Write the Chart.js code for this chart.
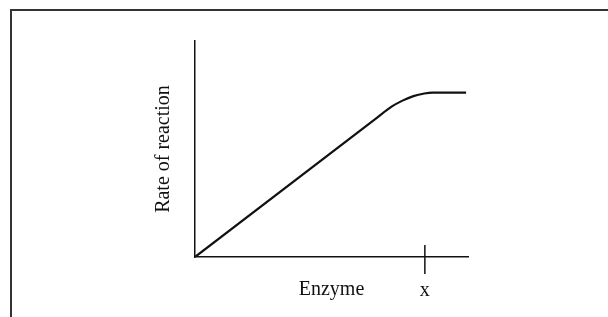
<!DOCTYPE html>
<html>
<head>
<meta charset="utf-8">
<script src="https://cdn.jsdelivr.net/npm/chart.js@4/dist/chart.umd.min.js"></script>
<style>
  html, body { margin: 0; padding: 0; background: #fff; overflow: hidden; }
  #frame {
    position: absolute; left: 10px; top: 9px; width: 700px; height: 400px;
    border-top: 2px solid #333; border-left: 2px solid #333;
  }
  #wrap { position: absolute; left: 0; top: 0; width: 608px; height: 317px; }
</style>
</head>
<body>
<div id="frame"></div>
<div id="wrap"><canvas id="chart"></canvas></div>
<script>
// Données (unités arbitraires)
const enzymeLevels = [0, 6.6, 7.2, 7.6, 8.0, 8.4, 8.7, 9.93];
const reactionRates = [0, 6.38, 6.96, 7.24, 7.45, 7.57, 7.61, 7.61];
const markerValue = 8.42;
const markerLabel = "x";
const xTitle = "Enzyme";
const yTitle = "Rate of reaction";

const serif = "'Liberation Serif', 'Times New Roman', serif";
const ink = "#111";

// Petit trait vertical qui coupe l'axe x au point "x"
const markerTick = {
  id: "markerTick",
  afterDraw(chart) {
    const { ctx, scales } = chart;
    const px = scales.x.getPixelForValue(markerValue);
    const py = scales.y.getPixelForValue(0);
    ctx.save();
    ctx.strokeStyle = ink;
    ctx.lineWidth = 1.5;
    ctx.beginPath();
    ctx.moveTo(px, py - 12);
    ctx.lineTo(px, py + 17);
    ctx.stroke();
    ctx.restore();
  },
};

const ctx = document.getElementById("chart").getContext("2d");
new Chart(ctx, {
  type: "line",
  data: {
    labels: enzymeLevels,
    datasets: [
      {
        data: enzymeLevels.map((x, i) => ({ x: x, y: reactionRates[i] })),
        borderColor: ink,
        borderWidth: 2.2,
        pointRadius: 0,
        cubicInterpolationMode: "monotone",
        fill: false,
      },
    ],
  },
  options: {
    responsive: true,
    maintainAspectRatio: false,
    animation: false,
    layout: { padding: { left: 147, top: 41, right: 140, bottom: 0 } },
    plugins: {
      legend: { display: false },
      tooltip: { enabled: false },
    },
    scales: {
      x: {
        type: "linear",
        min: 0,
        max: 10,
        grid: { display: false },
        border: { display: true, color: ink, width: 1.5 },
        afterBuildTicks: (scale) => {
          scale.ticks = [{ value: markerValue }];
        },
        afterFit: (scale) => {
          scale.height = 60;
        },
        ticks: {
          autoSkip: false,
          maxRotation: 0,
          padding: 14,
          color: ink,
          font: { family: serif, size: 20 },
          callback: () => markerLabel,
        },
        title: {
          display: true,
          text: xTitle,
          color: ink,
          font: { family: serif, size: 20 },
          padding: { top: 0, bottom: 15 },
        },
      },
      y: {
        min: 0,
        max: 10,
        grid: { display: false },
        border: { display: true, color: ink, width: 1.5 },
        ticks: { display: false },
        afterFit: (scale) => {
          scale.width = 48;
        },
        title: {
          display: true,
          text: yTitle,
          color: ink,
          font: { family: serif, size: 20 },
          padding: { top: 5, bottom: 4 },
        },
      },
    },
  },
  plugins: [markerTick],
});
</script>
</body>
</html>
